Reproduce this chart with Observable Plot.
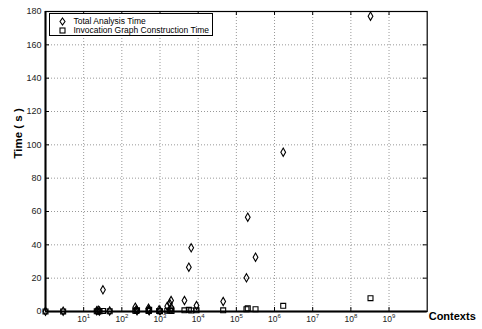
<!DOCTYPE html>
<html>
<head>
<meta charset="utf-8">
<script src="https://cdn.jsdelivr.net/npm/d3@7"></script>
<script src="https://cdn.jsdelivr.net/npm/@observablehq/plot@0.6"></script>
<style>
  body { margin: 0; background: white; }
  #wrap { position: relative; width: 482px; height: 329px; font-family: "Liberation Sans", Arial, sans-serif; }
  #legend { position: absolute; left: 48.5px; top: 13px; width: 164px; height: 23px; border: 1px solid black; background: white; font-size: 8.5px; box-sizing: border-box; }
  #legend .row { position: absolute; left: 0; height: 10px; line-height: 10px; white-space: nowrap; }
  #legend svg { position: absolute; left: 8px; top: 1px; }
  #legend span { position: absolute; left: 24px; top: 0; }
</style>
</head>
<body>
<div id="wrap"></div>
<script>
// Data (Contexts vs time in seconds)
const contexts = [1, 2.9, 22, 24, 26, 32, 48, 225, 240, 250, 500, 510, 520, 950, 1000, 1550, 1800, 1950, 2000, 4370, 5690, 6560, 9040, 45200, 184000, 199000, 318000, 1.69e6, 3.27e8];
const totalTime = [0.1, 0.2, 0.4, 0.8, 0.3, 13, 0.3, 2.6, 1.2, 0.5, 2.0, 1.0, 0.4, 1.0, 0.5, 3.2, 4.8, 6.6, 2.2, 6.6, 26.6, 38.2, 3.6, 6.0, 20.2, 56.6, 32.6, 95.6, 177.2];
const igTime = [0.05, 0.05, 0.1, 0.2, 0.1, 0.3, 0.1, 0.4, 0.3, 0.8, 0.5, 0.3, 1.0, 0.3, 0.2, 0.5, 0.6, 1.2, 0.3, 0.7, 1.0, 0.6, 0.7, 0.7, 1.4, 1.9, 1.4, 3.4, 8.0];
const seriesNames = ["Total Analysis Time", "Invocation Graph Construction Time"];
const xTicks = [1e1, 1e2, 1e3, 1e4, 1e5, 1e6, 1e7, 1e8, 1e9];
const yTicks = [0, 20, 40, 60, 80, 100, 120, 140, 160, 180];
const xLabel = "Contexts";
const yLabel = "Time ( s )";

const data = contexts.map((c, i) => ({c, total: totalTime[i], ig: igTime[i]}));

const W = 482, H = 329;
const mL = 45, mR = 55.3, mT = 11, mB = 18;
const fw = W - mL - mR, fh = H - mT - mB;
const tick = 4;
const gridStyle = {stroke: "#999", strokeOpacity: 1, strokeDasharray: "1,2", strokeWidth: 1};

const chart = Plot.plot({
  width: W, height: H,
  marginLeft: mL, marginRight: mR, marginTop: mT, marginBottom: mB,
  style: {fontFamily: "Liberation Sans, Arial, sans-serif", background: "white", color: "black"},
  x: {type: "log", domain: [1, 1e10]},
  y: {domain: [0, 180]},
  marks: [
    Plot.gridX(xTicks, gridStyle),
    Plot.gridY(yTicks.filter(v => v > 0 && v < 180), gridStyle),
    Plot.ruleX(xTicks, {x: d => d, insetTop: fh - tick, stroke: "black"}),
    Plot.ruleX(xTicks, {x: d => d, insetBottom: fh - tick, stroke: "black"}),
    Plot.ruleY(yTicks, {y: d => d, insetRight: fw - tick, stroke: "black"}),
    Plot.ruleY(yTicks, {y: d => d, insetLeft: fw - tick, stroke: "black"}),
    Plot.frame({stroke: "black", strokeWidth: 1.2}),
    Plot.ruleX([1], {stroke: "black", strokeWidth: 2}),
    Plot.ruleY([0], {stroke: "black", strokeWidth: 2}),
    Plot.dot(data, {x: "c", y: "total", symbol: "diamond", r: 2.5, stroke: "black", fill: "none", strokeWidth: 1.1}),
    Plot.dot(data, {x: "c", y: "ig", symbol: "square", r: 2.8, stroke: "black", fill: "none", strokeWidth: 1.1}),
    Plot.axisY({ticks: yTicks, tickSize: 0, tickPadding: 4, fontSize: 9, label: null, fill: "#222"}),
    Plot.axisX({ticks: xTicks, tickSize: 0, tickPadding: 4, fontSize: 8.5, label: null, fill: "#222",
      tickFormat: d => "10^" + Math.round(Math.log10(d))}),
    Plot.text([yLabel], {frameAnchor: "left", dx: -27, dy: -3, rotate: -90, fontSize: 11.5, fontWeight: "bold", text: d => d}),
    Plot.text([xLabel], {frameAnchor: "bottom-right", dx: 1.5, dy: 8, textAnchor: "start", fontSize: 11, fontWeight: "bold", text: d => d})
  ]
});

// superscript exponents on x tick labels
chart.querySelectorAll('g[aria-label="x-axis tick label"] text').forEach(t => {
  const s = t.textContent;
  const m = s.match(/^10\^(\d+)$/);
  if (m) {
    t.textContent = "10";
    const ts = document.createElementNS("http://www.w3.org/2000/svg", "tspan");
    ts.setAttribute("dy", "-3.5");
    ts.setAttribute("font-size", "6");
    ts.textContent = m[1];
    t.appendChild(ts);
  }
});

const wrap = document.getElementById("wrap");
wrap.appendChild(chart);

// legend
const legend = document.createElement("div");
legend.id = "legend";
const sym = [
  '<svg width="9" height="9"><path d="M4.5,1 L7,4.5 L4.5,8 L2,4.5 Z" fill="none" stroke="black" stroke-width="1.1"/></svg>',
  '<svg width="9" height="9"><rect x="2" y="2" width="5" height="5" fill="none" stroke="black" stroke-width="1.1"/></svg>'
];
seriesNames.forEach((name, i) => {
  const row = document.createElement("div");
  row.className = "row";
  row.style.top = (1.5 + i * 9.5) + "px";
  row.innerHTML = sym[i] + "<span>" + name + "</span>";
  legend.appendChild(row);
});
wrap.appendChild(legend);
</script>
</body>
</html>
